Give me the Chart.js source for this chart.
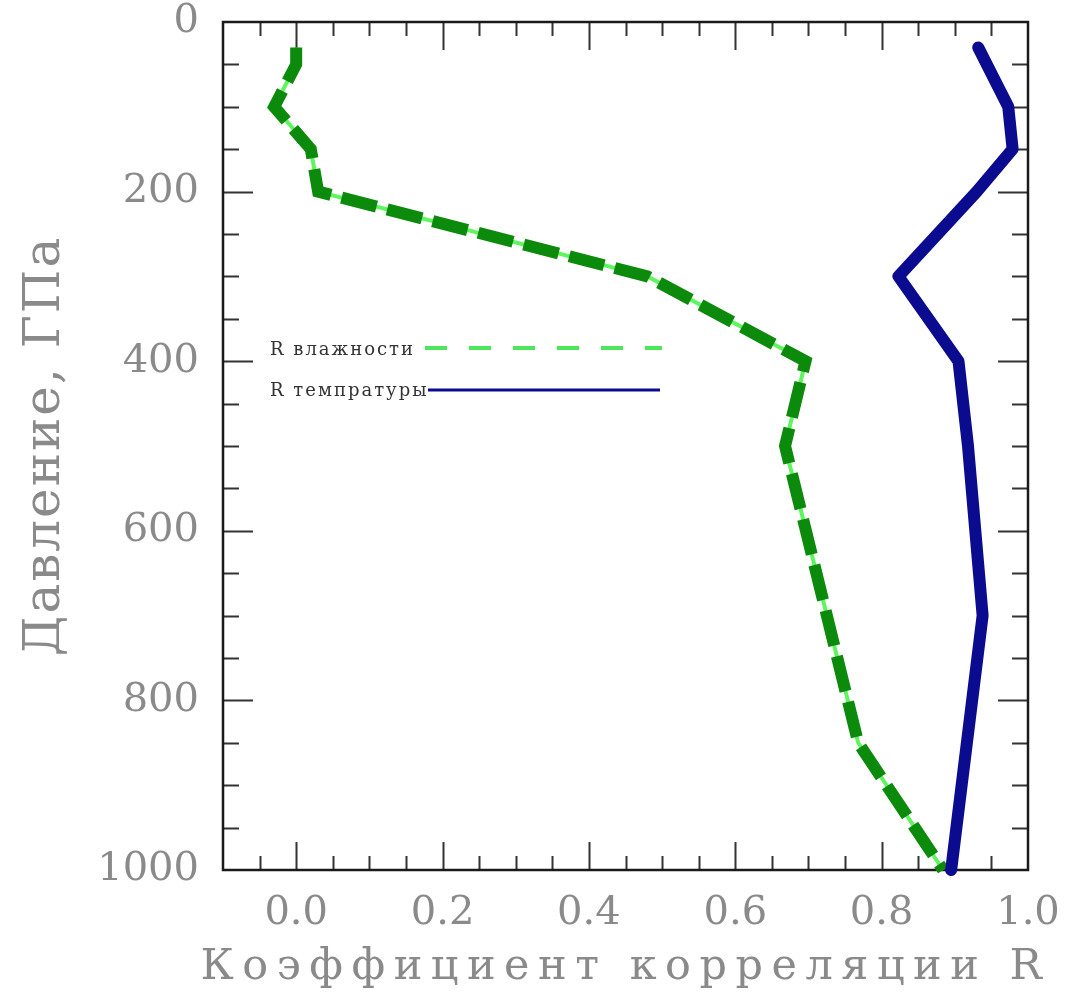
<!DOCTYPE html>
<html><head><meta charset="utf-8">
<script src="https://cdn.jsdelivr.net/npm/chart.js@4/dist/chart.umd.min.js"></script>
<style>html,body{margin:0;padding:0;background:#fff}canvas{display:block}</style>
</head><body>
<canvas id="c" width="1066" height="997"></canvas>
<script>
// ---- data ----
const seriesLabels = ['R влажности', 'R темпратуры'];
const humidityP = [30, 50, 100, 150, 200, 300, 400, 500, 850, 1000];
const humidityR = [0.0, 0.0, -0.03, 0.02, 0.03, 0.48, 0.696, 0.668, 0.768, 0.884];
const temperatureP = [30, 100, 150, 200, 300, 400, 500, 700, 1000];
const temperatureR = [0.932, 0.973, 0.979, 0.93, 0.823, 0.905, 0.918, 0.938, 0.895];
const xTickValues = [0, 0.2, 0.4, 0.6, 0.8, 1.0];
const yTickValues = [0, 200, 400, 600, 800, 1000];
const xTitle = 'Коэффициент корреляции R';
const yTitle = 'Давление, ГПа';

const toPts = (xs, ys) => xs.map((v, i) => ({x: v, y: ys[i]}));
const FONT = '"DejaVu Serif", "Liberation Serif", serif';
const TEXT_GRAY = '#8a8a8a';

// wraps Chart.js title drawing to add letter spacing (Hershey-like wide text)
const titleSpacing = {
  id: 'titleSpacing',
  afterLayout(chart) {
    Object.values(chart.scales).forEach(scale => {
      if (scale._wrapped) return;
      scale._wrapped = true;
      const orig = scale.drawTitle;
      const spacing = scale.axis === 'x' ? '8.5px' : '2px';
      scale.drawTitle = function () {
        const ctx = this.ctx;
        ctx.save();
        ctx.letterSpacing = spacing;
        const l = this.left, r = this.right;
        if (this.isHorizontal()) { this.left = l - 120; this.right = r + 120; }
        orig.apply(this, arguments);
        this.left = l; this.right = r;
        ctx.restore();
      };
    });
  }
};

// frame with inward major/minor ticks on all four sides
const frameTicks = {
  id: 'frameTicks',
  beforeDatasetsDraw(chart) {
    const {ctx, chartArea: a, scales: {x, y}} = chart;
    ctx.save();
    ctx.strokeStyle = '#333';
    ctx.lineWidth = 2;
    ctx.beginPath();
    for (let i = 1; i < 22; i++) {
      const v = -0.1 + i * 0.05;
      const major = Math.abs(Math.round(v * 10) - v * 10) < 1e-6 && Math.round(v * 10) % 2 === 0;
      const len = major ? 28 : 14;
      const px = Math.round(x.getPixelForValue(v)) + 0.5;
      ctx.moveTo(px, a.bottom); ctx.lineTo(px, a.bottom - len);
      ctx.moveTo(px, a.top); ctx.lineTo(px, a.top + len);
    }
    for (let i = 1; i < 20; i++) {
      const v = i * 50;
      const len = v % 200 === 0 ? 30 : 16;
      const py = Math.round(y.getPixelForValue(v)) + 0.5;
      ctx.moveTo(a.left, py); ctx.lineTo(a.left + len, py);
      ctx.moveTo(a.right, py); ctx.lineTo(a.right - len, py);
    }
    ctx.stroke();
    ctx.lineWidth = 2.5;
    ctx.strokeStyle = '#1a1a1a';
    ctx.strokeRect(a.left, a.top, a.right - a.left, a.bottom - a.top);
    ctx.restore();
  },
  afterDatasetsDraw(chart) {
    const ctx = chart.ctx;
    ctx.save();
    ctx.font = '18px ' + FONT;
    ctx.letterSpacing = '2px';
    ctx.fillStyle = '#333';
    ctx.textBaseline = 'middle';
    ctx.textAlign = 'left';
    ctx.fillText(seriesLabels[0], 270, 350);
    ctx.fillText(seriesLabels[1], 270, 391);
    ctx.lineCap = 'butt';
    ctx.strokeStyle = '#4ee65a';
    ctx.lineWidth = 4;
    ctx.setLineDash([22, 22]);
    ctx.beginPath(); ctx.moveTo(425, 348); ctx.lineTo(662, 348); ctx.stroke();
    ctx.setLineDash([]);
    ctx.strokeStyle = '#0b0b8f';
    ctx.lineWidth = 3;
    ctx.beginPath(); ctx.moveTo(428, 390); ctx.lineTo(660, 390); ctx.stroke();
    ctx.restore();
  }
};

new Chart(document.getElementById('c'), {
  type: 'line',
  data: {
    datasets: [
      {
        label: seriesLabels[1],
        data: toPts(temperatureR, temperatureP),
        borderColor: '#0b0b8f',
        borderWidth: 12,
        borderCapStyle: 'round',
        borderJoinStyle: 'round',
        pointRadius: 0,
        tension: 0,
        clip: 10
      },
      {
        label: seriesLabels[0],
        data: toPts(humidityR, humidityP),
        borderColor: '#0b8a0b',
        borderWidth: 12,
        borderDash: [36, 11],
        borderCapStyle: 'butt',
        borderJoinStyle: 'miter',
        pointRadius: 0,
        tension: 0,
        clip: 10
      },
      {
        label: seriesLabels[0] + ' ',
        data: toPts(humidityR, humidityP),
        borderColor: '#5ef55e',
        borderWidth: 4,
        pointRadius: 0,
        tension: 0,
        clip: 10
      }
    ]
  },
  options: {
    responsive: false,
    animation: false,
    events: [],
    layout: {padding: {left: 0, right: 38, top: 22, bottom: 0}},
    plugins: {legend: {display: false}, tooltip: {enabled: false}},
    scales: {
      x: {
        type: 'linear',
        min: -0.1, max: 1.0,
        grid: {display: false, drawTicks: false},
        border: {display: false},
        afterBuildTicks: s => { s.ticks = xTickValues.map(v => ({value: v})); },
        afterFit: s => { s.height = 127; s.paddingLeft = 0; s.paddingRight = 0; },
        ticks: {
          padding: 20,
          color: TEXT_GRAY,
          font: {family: FONT, size: 40},
          callback: v => Number(v).toFixed(1),
          maxRotation: 0, autoSkip: false
        },
        title: {
          display: true, text: xTitle, color: TEXT_GRAY,
          font: {family: FONT, size: 43}, padding: {top: 0, bottom: 3}
        }
      },
      y: {
        type: 'linear',
        reverse: true,
        min: 0, max: 1000,
        grid: {display: false, drawTicks: false},
        border: {display: false},
        afterBuildTicks: s => { s.ticks = yTickValues.map(v => ({value: v})); },
        afterFit: s => { s.width = 223; s.paddingTop = 0; s.paddingBottom = 0; },
        ticks: {
          padding: 24,
          color: TEXT_GRAY,
          font: {family: FONT, size: 40},
          callback: v => String(v),
          autoSkip: false
        },
        title: {
          display: true, text: yTitle, color: TEXT_GRAY,
          font: {family: FONT, size: 50}, padding: {top: 16, bottom: 0}
        }
      }
    }
  },
  plugins: [titleSpacing, frameTicks]
});
</script>
</body></html>
